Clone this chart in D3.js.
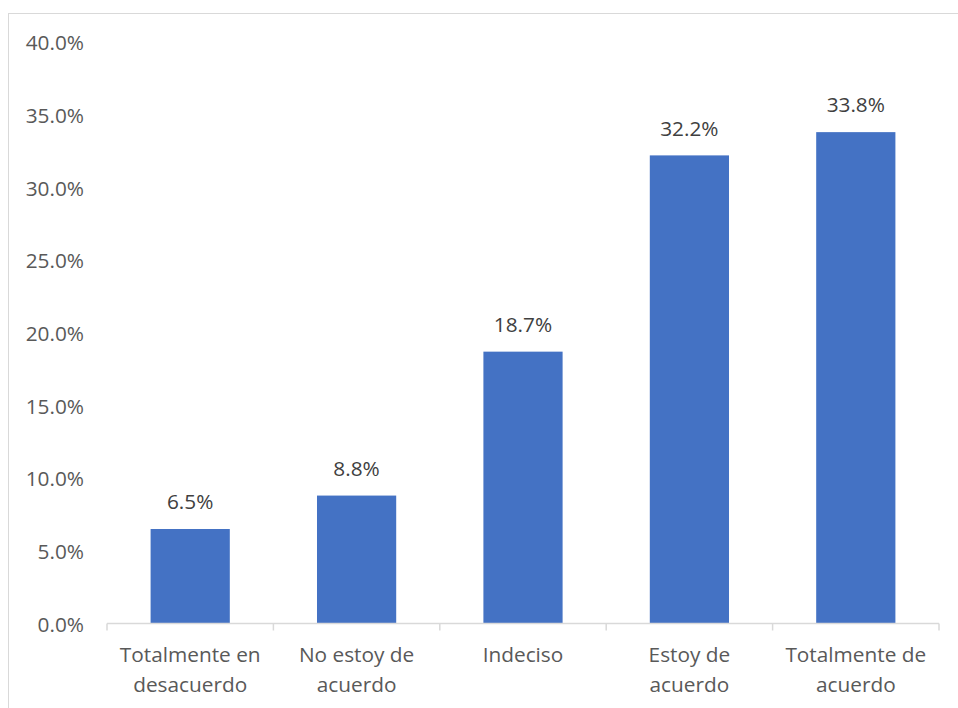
<!DOCTYPE html>
<html><head><meta charset="utf-8">
<script src="https://cdn.jsdelivr.net/npm/d3@7"></script>
<style>body{margin:0;background:#fff}svg{display:block}</style>
</head><body>
<svg id="c" width="958" height="708"></svg>
<script>
const categories = [["Totalmente en","desacuerdo"],["No estoy de","acuerdo"],["Indeciso"],["Estoy de","acuerdo"],["Totalmente de","acuerdo"]];
const values = [6.5, 8.8, 18.7, 32.2, 33.8];
const yTicks = [0,5,10,15,20,25,30,35,40];

(function(){
const svg = d3.select("#c");
const font = "'Open Sans', sans-serif";
const textColor = "#595959";
const fs = 20.8;
svg.append("rect").attr("x",8.5).attr("y",13.5).attr("width",1000).attr("height",1000)
  .attr("fill","#fff").attr("stroke","#d9d9d9").attr("stroke-width",1);

const pLeft = 107, pRight = 939, pTop = 42, pBottom = 623.5;
const x = d3.scaleBand().domain(categories.map((d,i)=>i)).range([pLeft,pRight]).paddingInner(0.524).paddingOuter(0.262);
const xb = d3.scaleBand().domain(categories.map((d,i)=>i)).range([pLeft,pRight]);
const y = d3.scaleLinear().domain([0,40]).range([pBottom, pTop]);

svg.append("g").selectAll("text").data(yTicks).join("text")
  .attr("x",84).attr("y",d=>y(d)+1).attr("dy","0.35em").attr("text-anchor","end")
  .attr("font-family",font).attr("font-size",fs).attr("fill",textColor)
  .text(d=>d3.format(".1f")(d)+"%");

svg.append("g").selectAll("rect").data(values).join("rect")
  .attr("x",(d,i)=>x(i)).attr("width",x.bandwidth())
  .attr("y",d=>y(d)).attr("height",d=>pBottom-y(d)).attr("fill","#4472C4");

svg.append("g").selectAll("text").data(values).join("text")
  .attr("x",(d,i)=>x(i)+x.bandwidth()/2).attr("y",d=>y(d)-27).attr("dy","0.35em")
  .attr("text-anchor","middle").attr("font-family",font).attr("font-size",fs).attr("fill","#404040")
  .text(d=>d3.format(".1f")(d)+"%");

const ax = svg.append("g").attr("stroke","#d9d9d9").attr("stroke-width",1.5);
ax.append("line").attr("x1",pLeft).attr("x2",pRight).attr("y1",pBottom).attr("y2",pBottom);
const bounds = categories.map((d,i)=>xb(i)).concat([pRight]);
ax.selectAll("line.t").data(bounds).join("line").attr("class","t")
  .attr("x1",d=>d).attr("x2",d=>d).attr("y1",pBottom).attr("y2",pBottom+7);

const cg = svg.append("g");
categories.forEach((lines,i)=>{
  const t = cg.append("text").attr("text-anchor","middle").attr("font-family",font)
    .attr("font-size",fs).attr("fill",textColor);
  lines.forEach((l,j)=>{
    t.append("tspan").attr("x",xb(i)+xb.bandwidth()/2).attr("y",655+j*30).attr("dy","0.35em").text(l);
  });
});
})();
</script>
</body></html>
